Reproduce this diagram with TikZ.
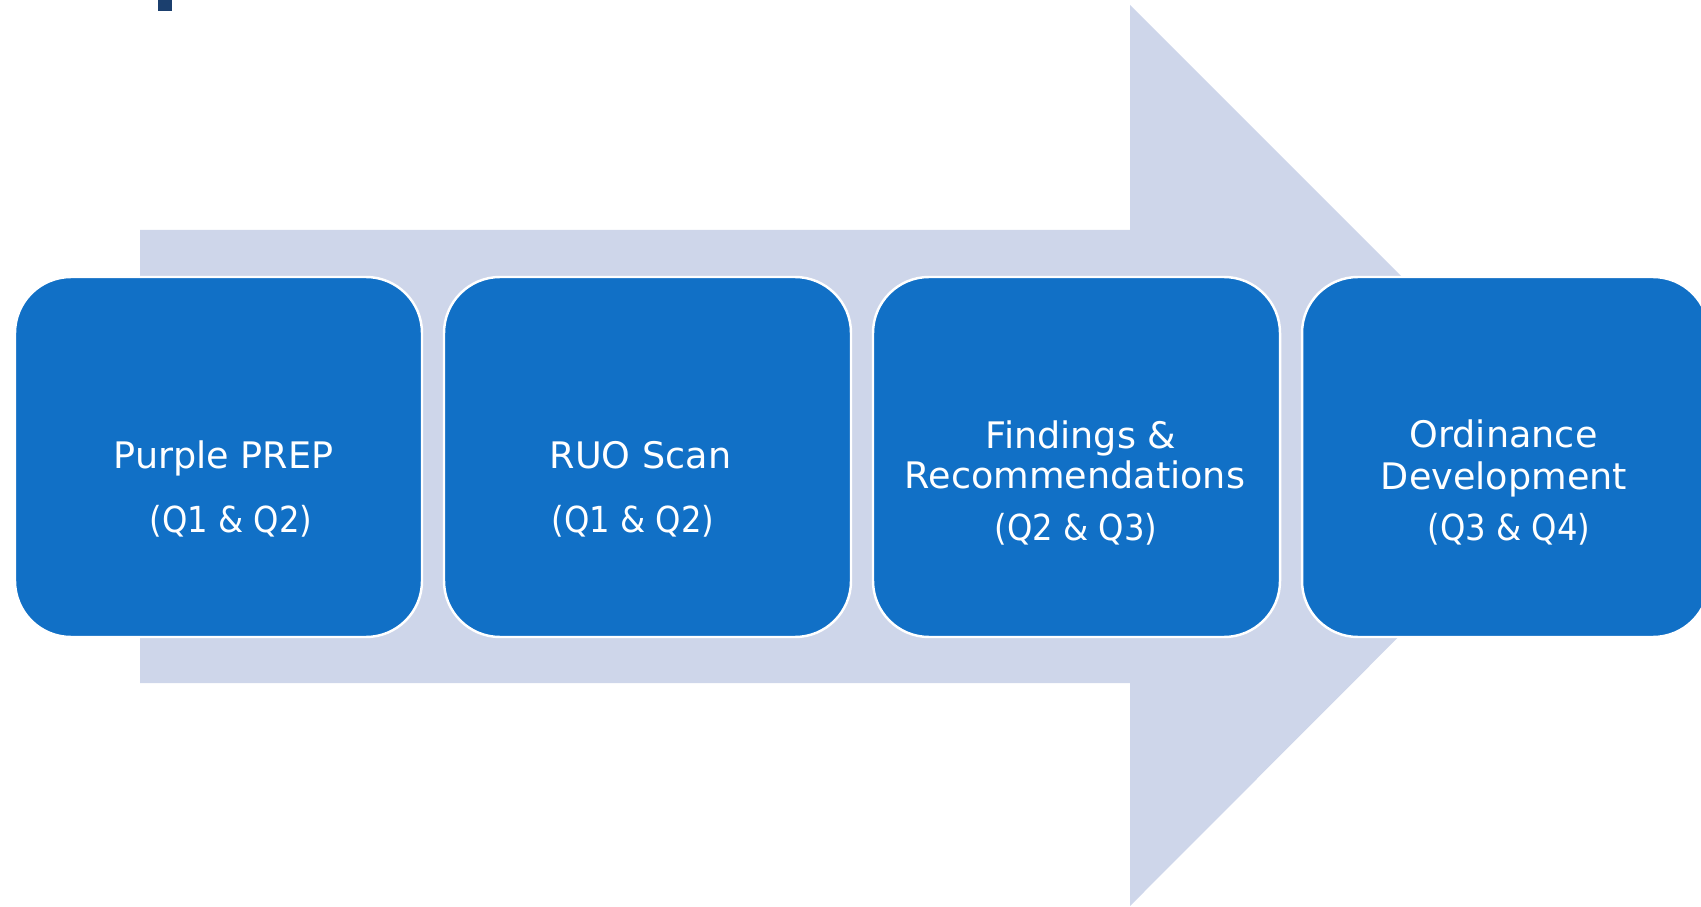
\documentclass[tikz,border=0pt]{standalone}
\usepackage{fontspec}
\setmainfont{DejaVu Sans}
\newfontfamily\condfont{DejaVu Sans Condensed}
\definecolor{arrowfill}{HTML}{CED6EA}
\definecolor{boxfill}{HTML}{1170C6}
\definecolor{navy}{HTML}{1B3F6E}
\tikzset{
  stagebox/.style={rounded corners=0.56cm, fill=boxfill, draw=white, line width=0.7pt,
    minimum width=4.07cm, minimum height=3.60cm, inner sep=0pt},
  titletxt/.style={text=white, anchor=base, inner sep=0pt, font=\fontsize{10.4}{12}\selectfont},
  qtrtxt/.style={text=white, anchor=base, inner sep=0pt, font=\condfont\fontsize{10.2}{12}\selectfont},
}
\begin{document}
\begin{tikzpicture}
\useasboundingbox (0,0) rectangle (17.01,9.06);
\clip (0,0) rectangle (17.01,9.06);
% small navy square
\fill[navy] (1.58,8.95) rectangle (1.72,9.06);
% big background arrow
\fill[arrowfill] (1.40,6.76) -- (11.30,6.76) -- (11.30,9.01) -- (15.80,4.51)
  -- (11.30,0.00) -- (11.30,2.23) -- (1.40,2.23) -- cycle;
% boxes
\node[stagebox] (b1) at (2.185,4.49) {};
\node[stagebox] (b2) at (6.475,4.49) {};
\node[stagebox] (b3) at (10.765,4.49) {};
\node[stagebox] (b4) at (15.055,4.49) {};
% texts
\node[titletxt] (t1a) at (2.235,4.38) {Purple PREP};
\node[qtrtxt]   (t1b) at (2.31,3.74) {(Q1 \& Q2)};
\node[titletxt] (t2a) at (6.405,4.38) {RUO Scan};
\node[qtrtxt]   (t2b) at (6.33,3.74) {(Q1 \& Q2)};
\node[titletxt] (t3a) at (10.81,4.58) {Findings \&};
\node[titletxt] (t3b) at (10.75,4.18) {Recommendations};
\node[qtrtxt]   (t3c) at (10.76,3.66) {(Q2 \& Q3)};
\node[titletxt] (t4a) at (15.035,4.59) {Ordinance};
\node[titletxt] (t4b) at (15.04,4.17) {Development};
\node[qtrtxt]   (t4c) at (15.09,3.66) {(Q3 \& Q4)};
\end{tikzpicture}
\end{document}
